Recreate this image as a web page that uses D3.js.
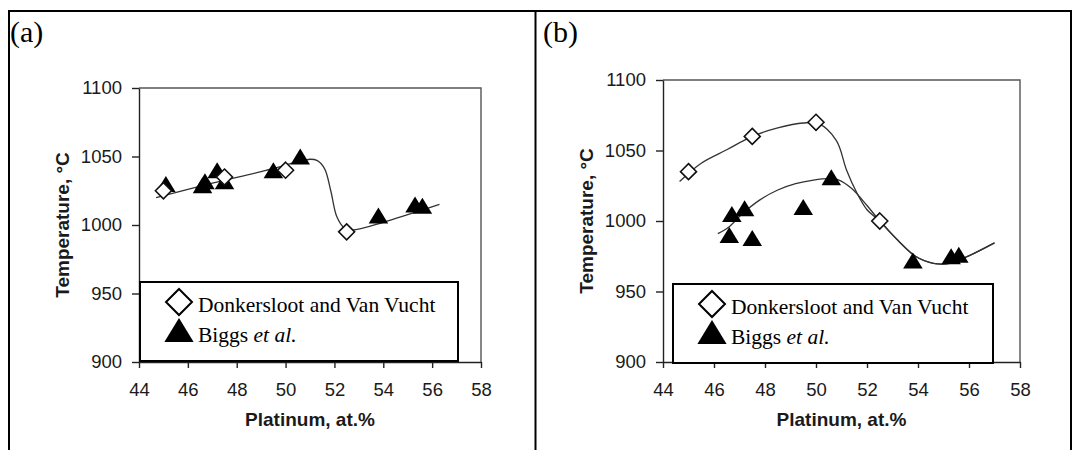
<!DOCTYPE html>
<html>
<head>
<meta charset="utf-8">
<script src="https://cdn.jsdelivr.net/npm/d3@7"></script>
<style>
  html, body { margin: 0; padding: 0; background: #fff; }
  svg { display: block; }
</style>
</head>
<body>
<svg id="chart" width="1073" height="450"></svg>
<script>
// ---- data -------------------------------------------------------------
const xTicks = [44, 46, 48, 50, 52, 54, 56, 58];
const yTicks = [900, 950, 1000, 1050, 1100];
const xTitle = "Platinum, at.%";
const yTitle = "Temperature, °C";
const panelLabels = ["(a)", "(b)"];
const seriesDonk = "Donkersloot and Van Vucht";
const seriesBiggs = ["Biggs ", "et al."];

// panel (a)
const donkXA = [45, 47.5, 50, 52.5];
const donkTA = [1025, 1035, 1040, 995];
const biggsXA = [45.1, 46.6, 46.7, 47.2, 47.5, 49.5, 50.6, 53.8, 55.3, 55.6];
const biggsTA = [1030, 1029, 1032, 1040, 1032, 1040, 1050, 1007, 1015, 1014];
const fitXA = [44.7, 47, 49, 50.5, 51.0, 51.3, 51.6, 51.85, 52.1, 52.4, 52.8, 54, 55, 56.3];
const fitTA = [1020, 1030.5, 1039, 1046, 1048, 1047, 1041, 1025, 1006, 998, 996.5, 1002, 1007.5, 1015];

// panel (b)
const donkXB = [45, 47.5, 50, 52.5];
const donkTB = [1035, 1060, 1070, 1000];
const biggsXB = [46.6, 46.7, 47.2, 47.5, 49.5, 50.6, 53.8, 55.3, 55.6];
const biggsTB = [990, 1005, 1009, 988, 1010, 1031, 972, 975, 976];
const fitUpXB = [44.65, 45.5, 46.5, 47.5, 48.5, 49.5, 50.1, 50.8, 51.2, 51.6, 52.0, 52.5, 53.2, 53.9, 54.6, 55.25, 55.9, 57.0];
const fitUpTB = [1028, 1041, 1050.5, 1060, 1066, 1069.5, 1069, 1057, 1036, 1020, 1008, 1000, 986.5, 975, 970, 970, 974.5, 984.5];
const fitLoXB = [46.15, 46.6, 47.1, 47.8, 48.5, 49.2, 49.9, 50.5, 50.9, 51.4, 52.0, 52.5, 53.2, 53.9, 54.6, 55.25, 55.9, 57.0];
const fitLoTB = [991, 996, 1005, 1015, 1022, 1026.5, 1029, 1030, 1029, 1023, 1011, 1000, 986.5, 975, 970, 970, 974.5, 984.5];

const zip = (xs, ys) => xs.map((x, i) => ({ x, y: ys[i] }));

const panels = [
  {
    label: panelLabels[0], labelX: 10,
    plot: { left: 139, right: 481, top: 88, bottom: 362 },
    legend: { left: 140, right: 458, top: 282, bottom: 361 },
    donk: zip(donkXA, donkTA),
    biggs: zip(biggsXA, biggsTA),
    fits: [zip(fitXA, fitTA)]
  },
  {
    label: panelLabels[1], labelX: 543,
    plot: { left: 663, right: 1020, top: 80, bottom: 362 },
    legend: { left: 673, right: 993, top: 284, bottom: 363 },
    donk: zip(donkXB, donkTB),
    biggs: zip(biggsXB, biggsTB),
    fits: [zip(fitUpXB, fitUpTB), zip(fitLoXB, fitLoTB)]
  }
];

// ---- marker shapes ------------------------------------------------------
const squareDiamond = {
  draw(ctx, size) {
    const r = Math.sqrt(size / 2);
    ctx.moveTo(0, -r); ctx.lineTo(r, 0); ctx.lineTo(0, r); ctx.lineTo(-r, 0); ctx.closePath();
  }
};
const boxTriangle = {
  draw(ctx, size) {
    const h = Math.sqrt(size), w = h * 1.22;
    ctx.moveTo(0, -h / 2); ctx.lineTo(w / 2, h / 2); ctx.lineTo(-w / 2, h / 2); ctx.closePath();
  }
};

const svg = d3.select("#chart");
svg.append("rect").attr("width", 1073).attr("height", 450).attr("fill", "#fff");

// ---- table frame ----------------------------------------------------------
const frame = svg.append("g").attr("stroke", "#000").attr("stroke-width", 2);
frame.append("line").attr("x1", 8).attr("x2", 1072).attr("y1", 11).attr("y2", 11);
frame.append("line").attr("x1", 9).attr("x2", 9).attr("y1", 10).attr("y2", 450);
frame.append("line").attr("x1", 535.5).attr("x2", 535.5).attr("y1", 10).attr("y2", 450);
frame.append("line").attr("x1", 1071).attr("x2", 1071).attr("y1", 10).attr("y2", 450);

panels.forEach(p => {
  const { left, right, top, bottom } = p.plot;
  const x = d3.scaleLinear().domain([44, 58]).range([left, right]);
  const y = d3.scaleLinear().domain([900, 1100]).range([bottom, top]);
  const g = svg.append("g");

  // panel letter
  g.append("text").attr("x", p.labelX).attr("y", 42)
    .attr("font-family", "'Liberation Serif', 'Times New Roman', serif")
    .attr("font-size", 30).attr("fill", "#000").text(p.label);

  // plot-area border (top and right)
  g.append("path")
    .attr("d", `M${left},${top}H${right}V${bottom}`)
    .attr("fill", "none").attr("stroke", "#555").attr("stroke-width", 1.4);

  // axes
  const xAxis = g.append("g").attr("transform", `translate(0,${bottom})`)
    .call(d3.axisBottom(x).tickValues(xTicks).tickFormat(d3.format("d"))
      .tickSize(6).tickSizeOuter(0).tickPadding(15));
  const yAxis = g.append("g").attr("transform", `translate(${left},0)`)
    .call(d3.axisLeft(y).tickValues(yTicks).tickFormat(d3.format("d"))
      .tickSize(7).tickSizeOuter(0).tickPadding(10));
  [xAxis, yAxis].forEach(a => {
    a.select(".domain").attr("stroke", "#222").attr("stroke-width", 1.4);
    a.selectAll(".tick line").attr("stroke", "#222").attr("stroke-width", 1.4);
    a.selectAll(".tick text")
      .attr("font-family", "'Liberation Sans', Arial, sans-serif")
      .attr("font-size", 18.5).attr("fill", "#1a1a1a");
  });

  // axis titles
  g.append("text")
    .attr("x", (left + right) / 2).attr("y", 426)
    .attr("text-anchor", "middle")
    .attr("font-family", "'Liberation Sans', Arial, sans-serif")
    .attr("font-weight", "bold").attr("font-size", 19).attr("fill", "#1a1a1a")
    .text(xTitle);
  g.append("text")
    .attr("transform", `translate(${left - 70},${(top + bottom) / 2}) rotate(-90)`)
    .attr("text-anchor", "middle")
    .attr("font-family", "'Liberation Sans', Arial, sans-serif")
    .attr("font-weight", "bold").attr("font-size", 19).attr("fill", "#1a1a1a")
    .text(yTitle);

  // fitted curves
  const line = d3.line().x(d => x(d.x)).y(d => y(d.y)).curve(d3.curveCatmullRom.alpha(0.5));
  p.fits.forEach(f => {
    g.append("path").attr("d", line(f))
      .attr("fill", "none").attr("stroke", "#333").attr("stroke-width", 1.3);
  });

  // markers
  g.selectAll(".biggs").data(p.biggs).join("path")
    .attr("transform", d => `translate(${x(d.x)},${y(d.y)})`)
    .attr("d", d3.symbol(boxTriangle, 256))
    .attr("fill", "#000");
  g.selectAll(".donk").data(p.donk).join("path")
    .attr("transform", d => `translate(${x(d.x)},${y(d.y)})`)
    .attr("d", d3.symbol(squareDiamond, 128))
    .attr("fill", "#fff").attr("stroke", "#111").attr("stroke-width", 1.6);

  // legend
  const L = p.legend;
  const lg = g.append("g");
  lg.append("rect")
    .attr("x", L.left).attr("y", L.top)
    .attr("width", L.right - L.left).attr("height", L.bottom - L.top)
    .attr("fill", "#fff").attr("stroke", "#000").attr("stroke-width", 2);
  lg.append("path")
    .attr("transform", `translate(${L.left + 39},${L.top + 20})`)
    .attr("d", d3.symbol(squareDiamond, 2 * 13 * 13))
    .attr("fill", "#fff").attr("stroke", "#000").attr("stroke-width", 2);
  lg.append("path")
    .attr("transform", `translate(${L.left + 39},${L.top + 48})`)
    .attr("d", d3.symbol(boxTriangle, 24 * 24))
    .attr("fill", "#000");
  const serif = "'Liberation Serif', 'Times New Roman', serif";
  lg.append("text").attr("x", L.left + 58).attr("y", L.top + 30)
    .attr("font-family", serif).attr("font-size", 21.5).attr("fill", "#000")
    .text(seriesDonk);
  const t2 = lg.append("text").attr("x", L.left + 58).attr("y", L.top + 60)
    .attr("font-family", serif).attr("font-size", 21.5).attr("fill", "#000");
  t2.append("tspan").text(seriesBiggs[0]);
  t2.append("tspan").attr("font-style", "italic").text(seriesBiggs[1]);
});
</script>
</body>
</html>
